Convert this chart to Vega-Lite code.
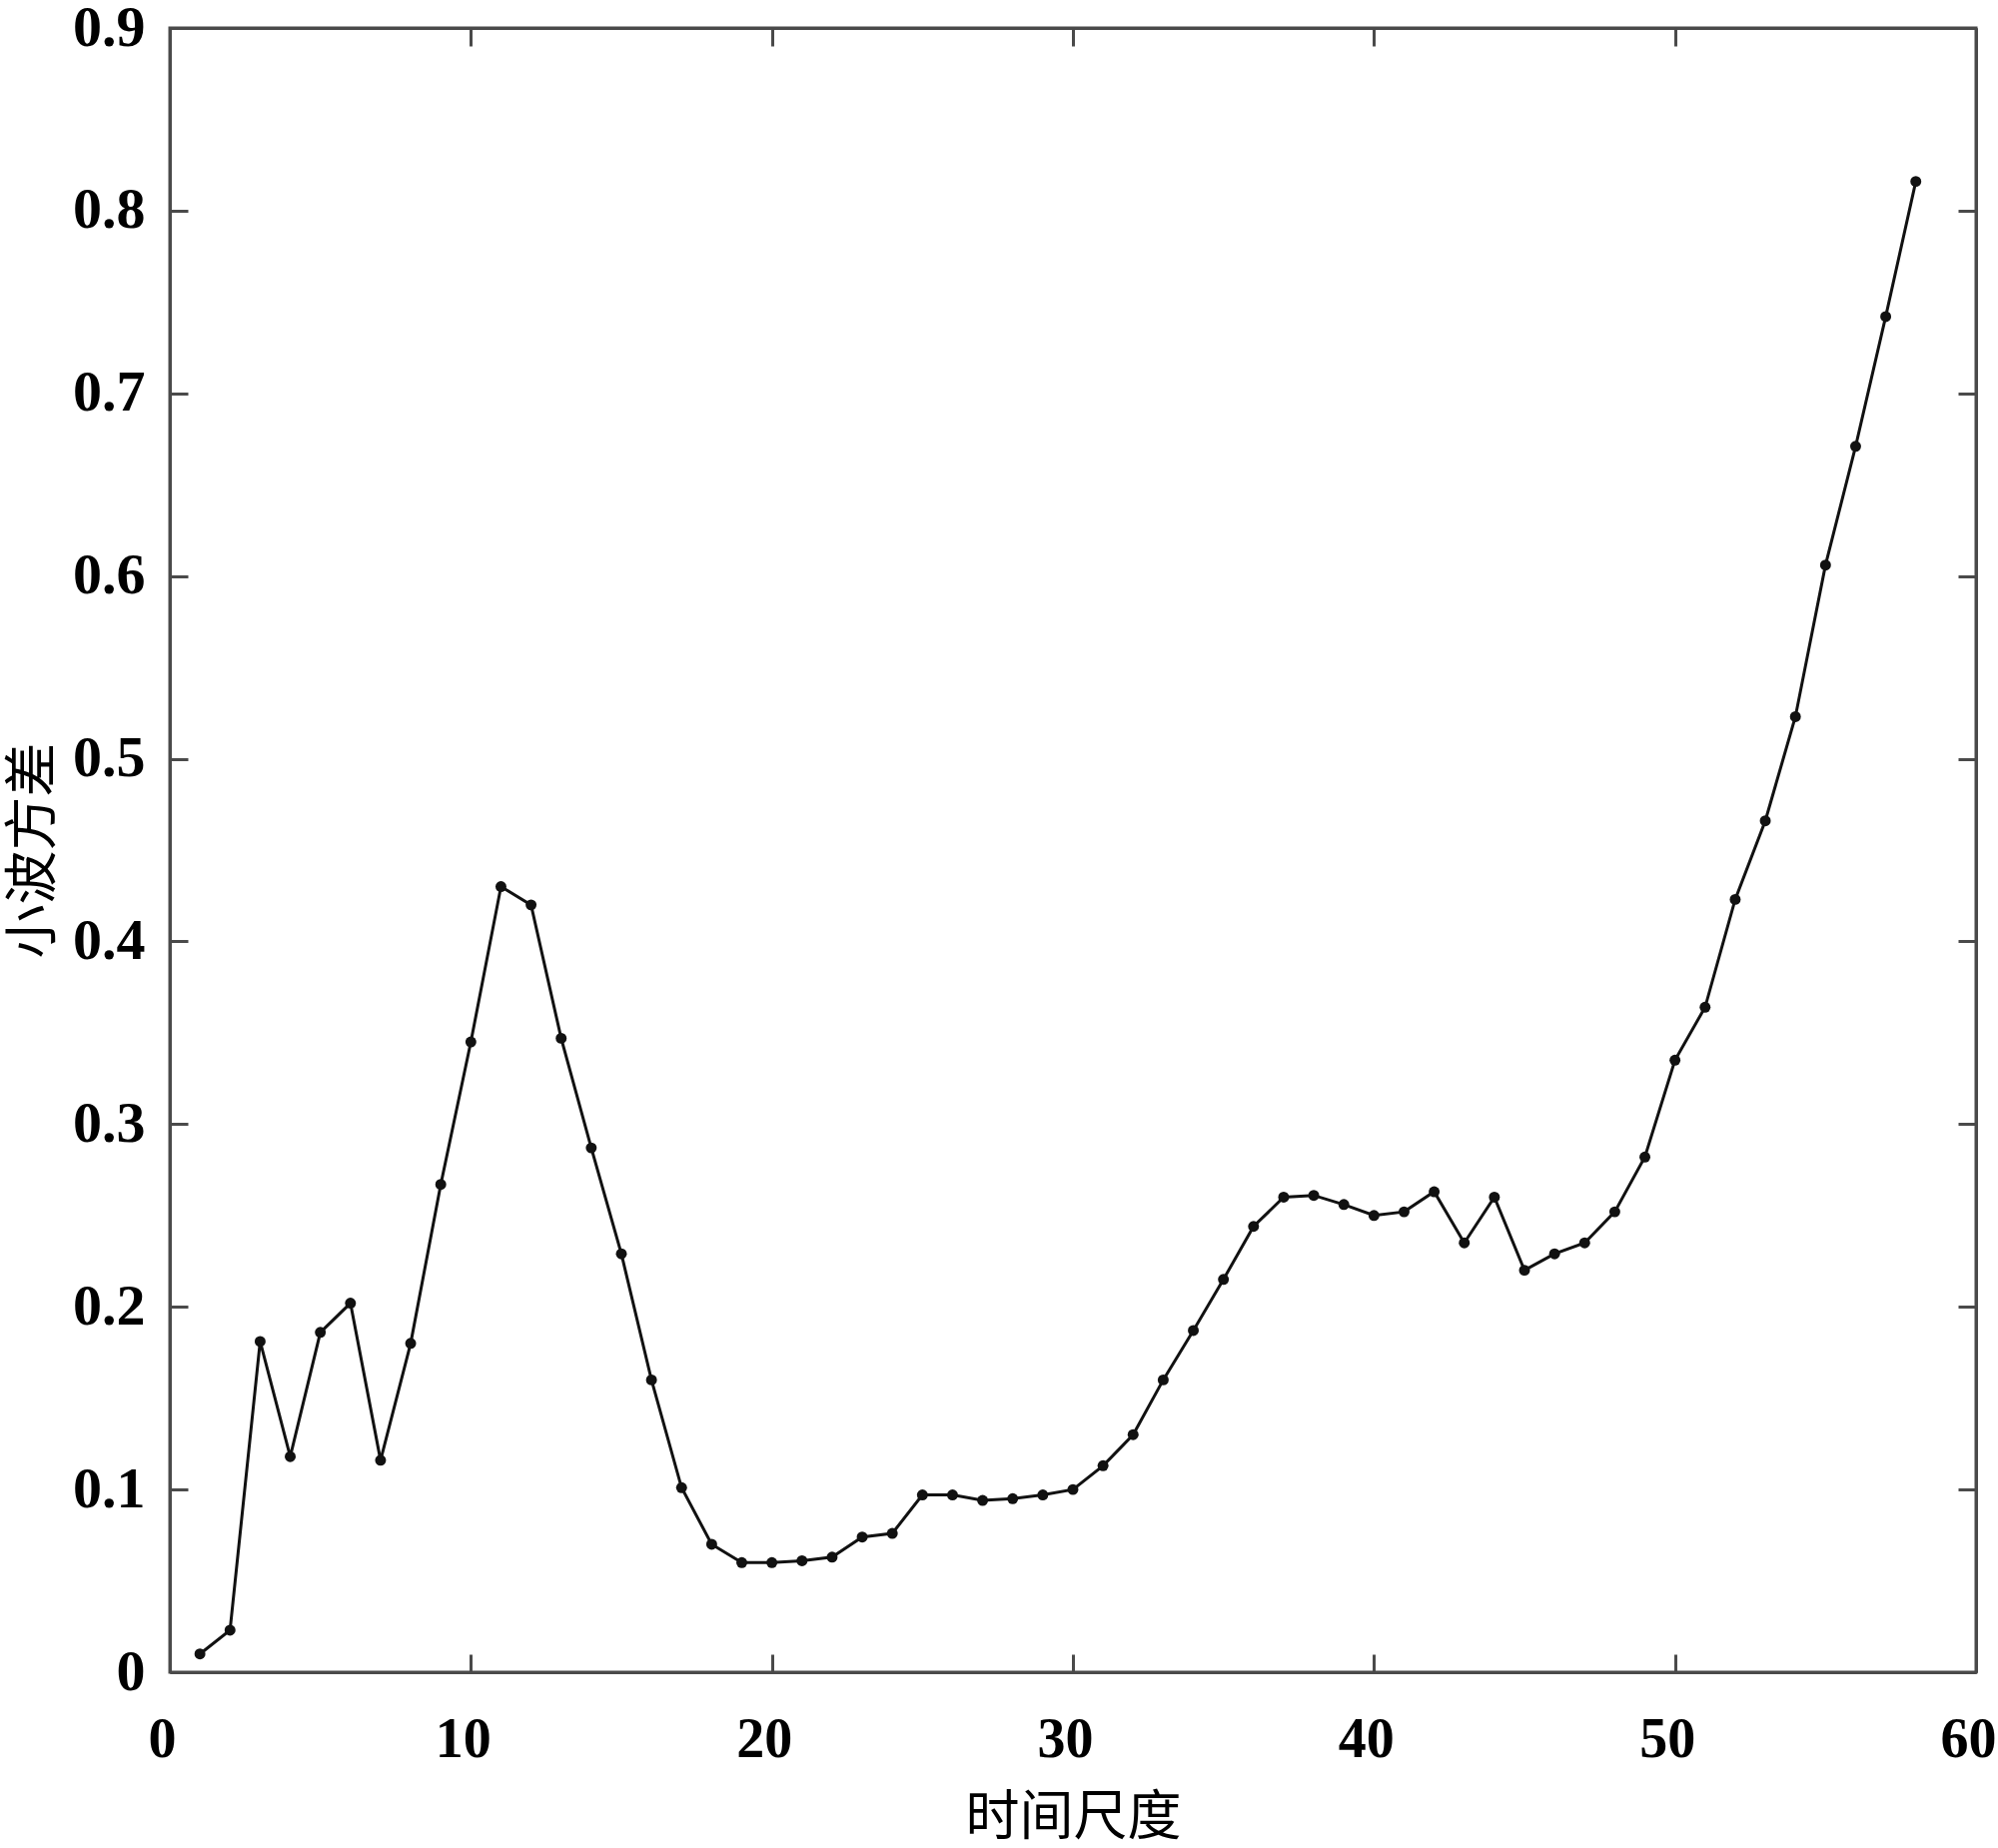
{
  "$schema": "https://vega.github.io/schema/vega-lite/v6.json",
  "width": 1808,
  "height": 1646,
  "autosize": {"type": "none"},
  "padding": {"left": 170, "top": 28, "right": 22, "bottom": 176},
  "background": "white",
  "config": {
    "view": {"stroke": "#4a4a4a", "strokeWidth": 3},
    "axis": {
      "grid": false,
      "labelFlush": false,
      "domainColor": "#4a4a4a",
      "domainWidth": 3,
      "tickColor": "#4a4a4a",
      "tickWidth": 3,
      "tickSize": -18,
      "labelFont": "Liberation Serif",
      "labelFontWeight": "bold",
      "labelFontSize": 58,
      "labelColor": "#000000",
      "titleFont": "Noto Sans CJK SC",
      "titleFontWeight": "normal",
      "titleFontSize": 54,
      "titleColor": "#000000"
    }
  },
  "data": {
    "values": [
      {"scale": 1, "variance": 0.010},
      {"scale": 2, "variance": 0.023},
      {"scale": 3, "variance": 0.181},
      {"scale": 4, "variance": 0.118},
      {"scale": 5, "variance": 0.186},
      {"scale": 6, "variance": 0.202},
      {"scale": 7, "variance": 0.116},
      {"scale": 8, "variance": 0.180},
      {"scale": 9, "variance": 0.267},
      {"scale": 10, "variance": 0.345},
      {"scale": 11, "variance": 0.430},
      {"scale": 12, "variance": 0.420},
      {"scale": 13, "variance": 0.347},
      {"scale": 14, "variance": 0.287},
      {"scale": 15, "variance": 0.229},
      {"scale": 16, "variance": 0.160},
      {"scale": 17, "variance": 0.101},
      {"scale": 18, "variance": 0.070},
      {"scale": 19, "variance": 0.060},
      {"scale": 20, "variance": 0.060},
      {"scale": 21, "variance": 0.061},
      {"scale": 22, "variance": 0.063},
      {"scale": 23, "variance": 0.074},
      {"scale": 24, "variance": 0.076},
      {"scale": 25, "variance": 0.097},
      {"scale": 26, "variance": 0.097},
      {"scale": 27, "variance": 0.094},
      {"scale": 28, "variance": 0.095},
      {"scale": 29, "variance": 0.097},
      {"scale": 30, "variance": 0.100},
      {"scale": 31, "variance": 0.113},
      {"scale": 32, "variance": 0.130},
      {"scale": 33, "variance": 0.160},
      {"scale": 34, "variance": 0.187},
      {"scale": 35, "variance": 0.215},
      {"scale": 36, "variance": 0.244},
      {"scale": 37, "variance": 0.260},
      {"scale": 38, "variance": 0.261},
      {"scale": 39, "variance": 0.256},
      {"scale": 40, "variance": 0.250},
      {"scale": 41, "variance": 0.252},
      {"scale": 42, "variance": 0.263},
      {"scale": 43, "variance": 0.235},
      {"scale": 44, "variance": 0.260},
      {"scale": 45, "variance": 0.220},
      {"scale": 46, "variance": 0.229},
      {"scale": 47, "variance": 0.235},
      {"scale": 48, "variance": 0.252},
      {"scale": 49, "variance": 0.282},
      {"scale": 50, "variance": 0.335},
      {"scale": 51, "variance": 0.364},
      {"scale": 52, "variance": 0.423},
      {"scale": 53, "variance": 0.466},
      {"scale": 54, "variance": 0.523},
      {"scale": 55, "variance": 0.606},
      {"scale": 56, "variance": 0.671},
      {"scale": 57, "variance": 0.742},
      {"scale": 58, "variance": 0.816}
    ]
  },
  "layer": [
    {
      "mark": {"type": "line", "color": "#111111", "strokeWidth": 3},
      "encoding": {
        "x": {
          "field": "scale", "type": "quantitative",
          "scale": {"domain": [0, 60], "nice": false, "zero": false},
          "axis": {"orient": "bottom", "values": [0, 10, 20, 30, 40, 50, 60], "labelFontSize": 56, "labelOffset": -8, "labelPadding": 58, "title": "时间尺度", "titlePadding": 24}
        },
        "y": {
          "field": "variance", "type": "quantitative",
          "scale": {"domain": [0, 0.9], "nice": false, "zero": false},
          "axis": {"orient": "left", "values": [0, 0.1, 0.2, 0.3, 0.4, 0.5, 0.6, 0.7, 0.8, 0.9], "labelExpr": "datum.value == 0 ? '0' : format(datum.value, '.1f')", "labelPadding": 43, "title": "小波方差", "titlePadding": 11}
        }
      }
    },
    {
      "mark": {"type": "point", "filled": true, "color": "#111111", "size": 120, "opacity": 1},
      "encoding": {
        "x": {
          "field": "scale", "type": "quantitative",
          "scale": {"domain": [0, 60], "nice": false, "zero": false},
          "axis": {"orient": "top", "values": [0, 10, 20, 30, 40, 50, 60], "labels": false, "title": null}
        },
        "y": {
          "field": "variance", "type": "quantitative",
          "scale": {"domain": [0, 0.9], "nice": false, "zero": false},
          "axis": {"orient": "right", "values": [0, 0.1, 0.2, 0.3, 0.4, 0.5, 0.6, 0.7, 0.8, 0.9], "labels": false, "title": null}
        }
      }
    }
  ],
  "resolve": {"axis": {"x": "independent", "y": "independent"}}
}
